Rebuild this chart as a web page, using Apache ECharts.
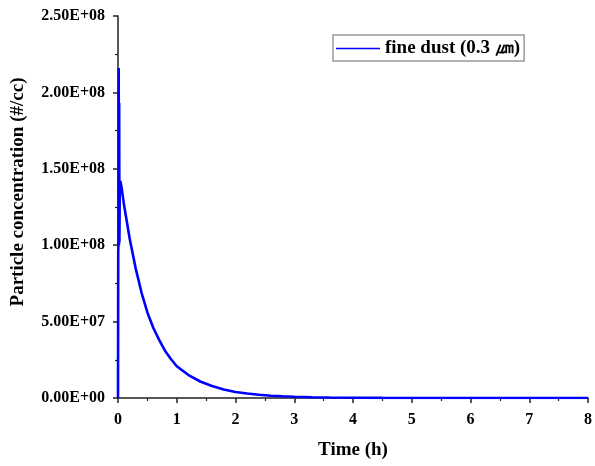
<!DOCTYPE html>
<html><head><meta charset="utf-8">
<script src="https://cdn.jsdelivr.net/npm/echarts@6/dist/echarts.min.js"></script>
<style>html,body{margin:0;padding:0;background:#fff}#c{width:595px;height:466px}</style>
</head><body><div id="c"></div>
<script>
// Time (h)
var timeH = [0, 0.004, 0.008, 0.012, 0.016, 0.02, 0.024, 0.03, 0.04, 0.06, 0.1, 0.2, 0.3, 0.4, 0.5, 0.6, 0.7, 0.8, 0.9, 1.0, 1.2, 1.4, 1.6, 1.8, 2.0, 2.2, 2.4, 2.6, 2.8, 3.0, 3.3, 3.6, 4.0, 4.5, 5.0, 5.5, 6.0, 6.5, 7.0, 7.5, 8.0];
// Particle concentration (#/cc)
var fineDust = [0, 9.6e7, 1.0e8, 2.16e8, 1.0e8, 1.93e8, 1.02e8, 1.36e8, 1.42e8, 1.38e8, 1.27e8, 1.04e8, 8.5e7, 6.9e7, 5.6e7, 4.6e7, 3.8e7, 3.1e7, 2.55e7, 2.08e7, 1.5e7, 1.08e7, 7.8e6, 5.5e6, 3.9e6, 2.9e6, 2.1e6, 1.5e6, 1.1e6, 8.0e5, 5.0e5, 3.0e5, 1.5e5, 7e4, 3e4, 2e4, 1e4, 1e4, 5e3, 5e3, 0];
var xTicks = [0, 1, 2, 3, 4, 5, 6, 7, 8];
var yTicks = [0, 5e7, 1e8, 1.5e8, 2e8, 2.5e8];
var seriesName = 'fine dust (0.3 \u339B)';

function sci(v) {
  if (v === 0) return '0.00E+00';
  var e = Math.floor(Math.log10(Math.abs(v)) + 1e-9);
  var m = v / Math.pow(10, e);
  var es = (e < 0 ? '-' : '+') + (Math.abs(e) < 10 ? '0' : '') + Math.abs(e);
  return m.toFixed(2) + 'E' + es;
}
var font = '"Liberation Serif", "Times New Roman", serif';
var chart = echarts.init(document.getElementById('c'));
chart.setOption({
  animation: false,
  backgroundColor: '#fff',
  grid: { left: 118, right: 4, top: 16, bottom: 68 },
  legend: {
    left: 333, top: 35,
    data: [{ name: seriesName, icon: 'path://M0,0 L44,0 L44,1.3 L0,1.3 Z', itemStyle: { color: '#0000ff' } }],
    borderColor: '#999', borderWidth: 1.5, borderRadius: 0,
    padding: [4, 4, 3, 3],
    itemWidth: 44, itemHeight: 14, itemGap: 4,
    textStyle: { fontFamily: font, fontWeight: 'bold', fontSize: 19, color: '#000' }
  },
  graphic: [{
    type: 'text', rotation: Math.PI / 2,
    style: {
      text: 'Particle concentration (#/cc)', fontFamily: font, fontWeight: 'bold', fontSize: 19, fill: '#000',
      align: 'center', verticalAlign: 'middle'
    },
    x: 18, y: 192
  }],
  xAxis: {
    type: 'value', min: xTicks[0], max: xTicks[xTicks.length - 1], interval: 1,
    name: 'Time (h)', nameLocation: 'middle', nameGap: 43,
    nameTextStyle: { fontFamily: font, fontWeight: 'bold', fontSize: 19, color: '#000' },
    axisLine: { show: true, lineStyle: { color: '#222', width: 1.5 } },
    axisTick: { show: true, length: 5, lineStyle: { color: '#222', width: 1.5 } },
    minorTick: { show: true, splitNumber: 2, length: 3, lineStyle: { color: '#222', width: 1.2 } },
    splitLine: { show: false },
    axisLabel: { fontFamily: font, fontWeight: 'bold', fontSize: 16, color: '#000', margin: 14 }
  },
  yAxis: {
    type: 'value', min: yTicks[0], max: yTicks[yTicks.length - 1], interval: 5e7,
    axisLine: { show: true, lineStyle: { color: '#222', width: 1.5 } },
    axisTick: { show: true, length: 5, lineStyle: { color: '#222', width: 1.5 } },
    minorTick: { show: true, splitNumber: 2, length: 3, lineStyle: { color: '#222', width: 1.2 } },
    splitLine: { show: false },
    axisLabel: { fontFamily: font, fontWeight: 'bold', fontSize: 16, color: '#000', margin: 13, formatter: sci }
  },
  series: [{
    name: seriesName,
    type: 'line',
    data: timeH.map(function (t, i) { return [t, fineDust[i]]; }),
    showSymbol: false,
    color: '#0000ff',
    lineStyle: { color: '#0000ff', width: 2.6 },
    itemStyle: { color: '#0000ff' }
  }]
});
</script></body></html>
